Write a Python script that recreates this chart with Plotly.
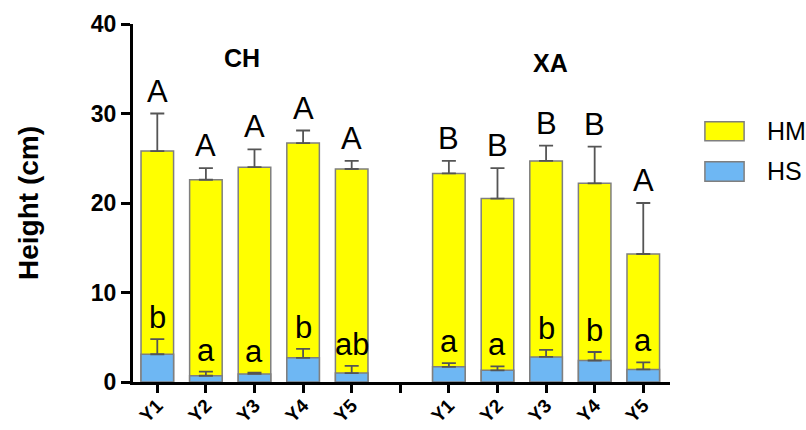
import plotly.graph_objects as go

# Sites and years
groups = ["CH", "XA"]
years = ["Y1", "Y2", "Y3", "Y4", "Y5"]

# Mean height (cm) and upper SD for the two plant parts, per site
hm_mean = {"CH": [25.8, 22.6, 24.0, 26.7, 23.8], "XA": [23.3, 20.5, 24.7, 22.2, 14.3]}
hm_err = {"CH": [4.2, 1.3, 2.0, 1.4, 0.9], "XA": [1.4, 3.4, 1.7, 4.1, 5.7]}
hs_mean = {"CH": [3.1, 0.7, 0.9, 2.7, 1.0], "XA": [1.7, 1.3, 2.8, 2.4, 1.4]}
hs_err = {"CH": [1.7, 0.45, 0.15, 1.0, 0.8], "XA": [0.4, 0.45, 0.8, 0.95, 0.8]}

# Significance letters
hm_letters = {"CH": ["A", "A", "A", "A", "A"], "XA": ["B", "B", "B", "B", "A"]}
hs_letters = {"CH": ["b", "a", "a", "b", "ab"], "XA": ["a", "a", "b", "b", "a"]}

YELLOW = "#FFFF00"
BLUE = "#6EB7F3"
EDGE = "#7F7F7F"
ERR = "#555555"
FONT = "Liberation Sans, Arial, sans-serif"

# x positions: one empty slot between the two sites
xs, hm_y, hm_e, hs_y, hs_e, hm_t, hs_t = [], [], [], [], [], [], []
for g_i, g in enumerate(groups):
    for i in range(len(years)):
        xs.append(g_i * (len(years) + 1) + i)
        hm_y.append(hm_mean[g][i]); hm_e.append(hm_err[g][i])
        hs_y.append(hs_mean[g][i]); hs_e.append(hs_err[g][i])
        hm_t.append(hm_letters[g][i]); hs_t.append(hs_letters[g][i])

tickvals = list(range(2 * len(years) + 1))
ticktext = years + [""] + years

fig = go.Figure()
fig.add_trace(go.Bar(
    x=xs, y=hm_y, width=0.67, name="HM",
    marker=dict(color=YELLOW, line=dict(color=EDGE, width=1.5)),
    error_y=dict(type="data", array=hm_e, arrayminus=[0] * len(hm_e), symmetric=False,
                 color=ERR, thickness=1.8, width=7),
    showlegend=False,
))
fig.add_trace(go.Bar(
    x=xs, y=hs_y, width=0.67, name="HS",
    marker=dict(color=BLUE, line=dict(color=EDGE, width=1.5)),
    error_y=dict(type="data", array=hs_e, arrayminus=[0] * len(hs_e), symmetric=False,
                 color=ERR, thickness=1.8, width=7),
    showlegend=False,
))

annotations = []
for x, y, e, t in zip(xs, hm_y, hm_e, hm_t):
    annotations.append(dict(x=x, y=y + e, text=t, xref="x", yref="y", showarrow=False,
                            yanchor="bottom", yshift=3, font=dict(family=FONT, size=31, color="black")))
for x, y, e, t in zip(xs, hs_y, hs_e, hs_t):
    annotations.append(dict(x=x, y=y + e, text=t, xref="x", yref="y", showarrow=False,
                            yanchor="bottom", yshift=2, font=dict(family=FONT, size=31, color="black")))

# Site titles
for text, px, py in [("CH", 0.2024, 0.904), ("XA", 0.778, 0.892)]:
    annotations.append(dict(x=px, y=py, xref="paper", yref="paper", text=f"<b>{text}</b>",
                            showarrow=False, xanchor="center", yanchor="middle",
                            font=dict(family=FONT, size=25, color="black")))

# Legend drawn as swatches + labels
shapes = []
for name, color, y0, y1 in [("HM", YELLOW, 0.674, 0.727), ("HS", BLUE, 0.561, 0.615)]:
    shapes.append(dict(type="rect", xref="paper", yref="paper", x0=1.065, x1=1.138, y0=y0, y1=y1,
                       fillcolor=color, line=dict(color=EDGE, width=1.5)))
    annotations.append(dict(x=1.176, y=(y0 + y1) / 2, xref="paper", yref="paper", text=name,
                            showarrow=False, xanchor="left", yanchor="middle",
                            font=dict(family=FONT, size=25, color="black")))

fig.update_layout(
    width=806, height=430,
    margin=dict(l=133, r=136, t=24, b=48),
    paper_bgcolor="white", plot_bgcolor="white",
    barmode="overlay",
    annotations=annotations,
    shapes=shapes,
    xaxis=dict(
        range=[-0.5, 10.55], tickvals=tickvals, ticktext=ticktext, tickangle=-45,
        showline=True, linecolor="black", linewidth=3,
        ticks="outside", ticklen=8, tickwidth=3, tickcolor="black",
        showgrid=False, zeroline=False, automargin=False, ticklabelstandoff=-6,
        tickfont=dict(family=FONT, size=19, color="black", weight="bold"),
    ),
    yaxis=dict(
        range=[0, 40], dtick=10,
        showline=True, linecolor="black", linewidth=3,
        ticks="outside", ticklen=9, tickwidth=3, tickcolor="black",
        showgrid=False, zeroline=False, automargin=False,
        tickfont=dict(family=FONT, size=23, color="black", weight="bold"),
        title=dict(text="<b>Height (cm)</b>", standoff=45,
                   font=dict(family=FONT, size=28, color="black")),
    ),
)

fig.write_html("out.html")
